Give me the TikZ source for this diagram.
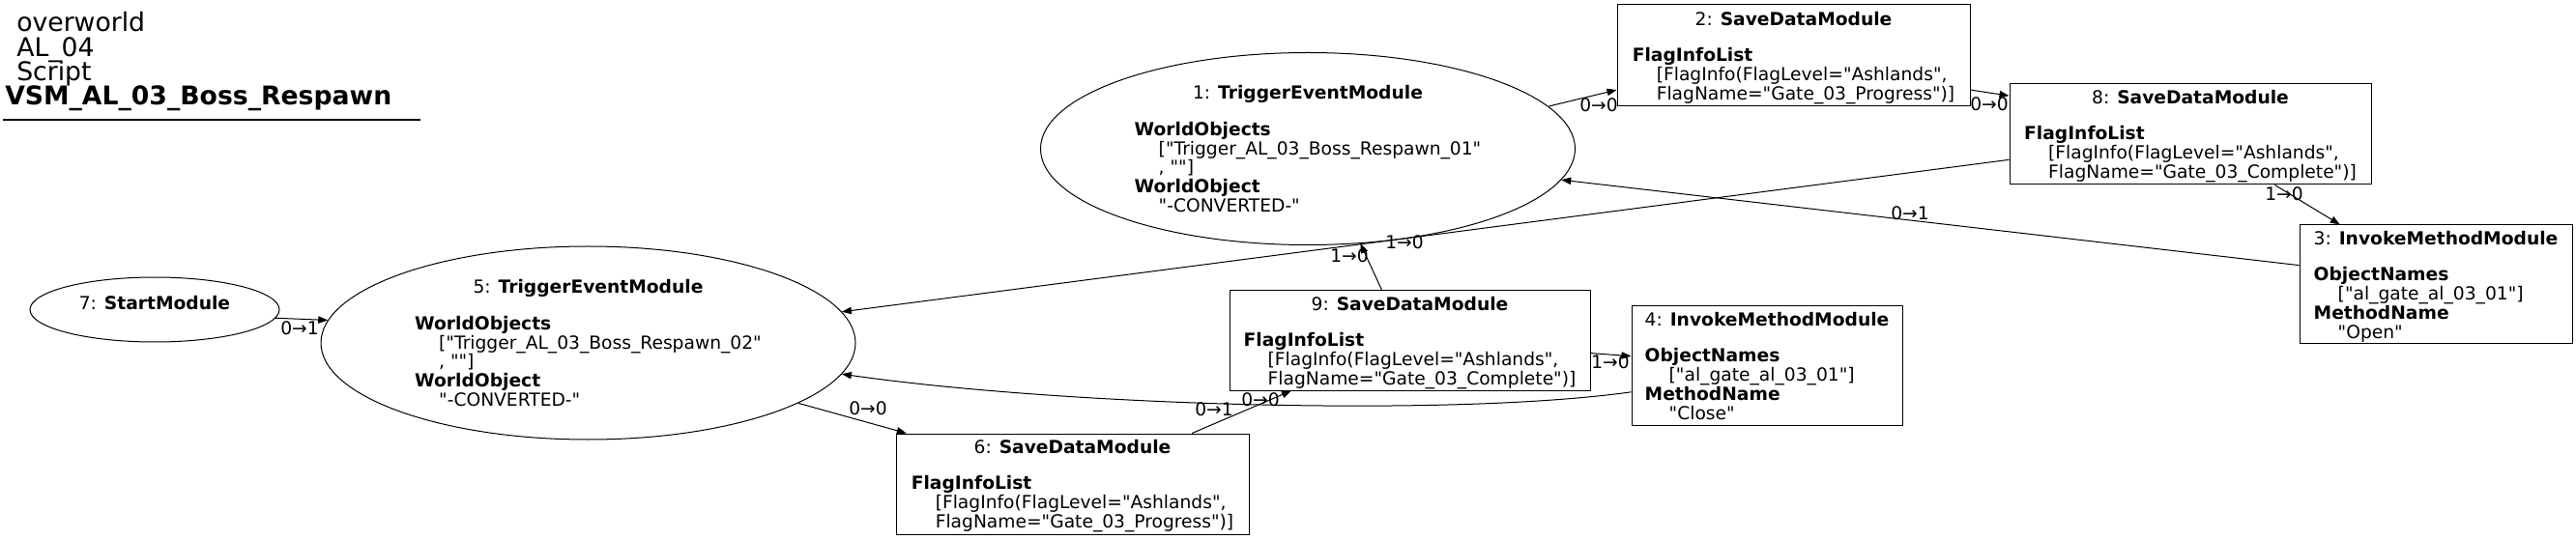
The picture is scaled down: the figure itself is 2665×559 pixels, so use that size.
\documentclass[tikz,border=0pt]{standalone}
\usepackage{fontspec}
\usepackage{array}
\setmainfont{DejaVu Sans}[Ligatures=TeXOff]
\usetikzlibrary{shapes.geometric,arrows.meta}
\newcommand\vin{\hspace*{18.75pt}}
\newcommand\lowr[1]{\raisebox{-2.25pt}[\height][\depth]{#1}}
\begin{document}
\begin{tikzpicture}[x=0.75pt,y=-0.75pt,
  txt/.style={font=\fontsize{14}{14.44}\selectfont},
  ell/.style={draw, ellipse, inner sep=0pt, line width=0.75pt, txt},
  box/.style={draw, rectangle, inner sep=0pt, line width=0.75pt, txt},
  lbl/.style={inner sep=0pt, txt},
  ttl/.style={inner sep=0pt, anchor=base west, font=\fontsize{20}{24}\selectfont},
  conn/.style={draw, line width=0.75pt, -{Triangle[length=7.5pt,width=5.5pt]}}]
\useasboundingbox (0,0) rectangle (2665,559);

% title
\node[ttl] (t1) at (17,33) {overworld};
\node[ttl] (t2) at (17,59) {AL\_04};
\node[ttl] (t3) at (17,84) {Script};
\node[ttl] (t4) at (5,109) {\textbf{VSM\_AL\_03\_Boss\_Respawn}};
\draw[line width=0.9pt] (3,124) -- (435,124);

% nodes
\node[ell, minimum width=414.75pt, minimum height=149.25pt] (n1) at (1353,154)
 {\lowr{\begin{tabular}{@{}l@{}}\multicolumn{1}{@{}c@{}}{1: \textbf{TriggerEventModule}}\\ \\[-1.5pt]
 \textbf{WorldObjects}\\ \vin["Trigger\_AL\_03\_Boss\_Respawn\_01"\\ \vin, ""]\\
 \textbf{WorldObject}\\ \vin"-CONVERTED-"\end{tabular}}};

\node[ell, minimum width=414.75pt, minimum height=150pt] (n5) at (608.5,355)
 {\lowr{\begin{tabular}{@{}l@{}}\multicolumn{1}{@{}c@{}}{5: \textbf{TriggerEventModule}}\\ \\[-1.5pt]
 \textbf{WorldObjects}\\ \vin["Trigger\_AL\_03\_Boss\_Respawn\_02"\\ \vin, ""]\\
 \textbf{WorldObject}\\ \vin"-CONVERTED-"\end{tabular}}};

\node[ell, minimum width=193.5pt, minimum height=50.25pt] (n7) at (160,320.5)
 {\lowr{\begin{tabular}{@{}c@{}}7: \textbf{StartModule}\\ \\[-4pt]\end{tabular}}};

\node[box, minimum width=273.75pt, minimum height=78.75pt] (n2) at (1855.5,57.5)
 {\lowr{\begin{tabular}{@{}l@{}}\multicolumn{1}{@{}c@{}}{2: \textbf{SaveDataModule}}\\ \\[-1.5pt]
 \textbf{FlagInfoList}\\ \vin[FlagInfo(FlagLevel="Ashlands",\\ \vin FlagName="Gate\_03\_Progress")]\end{tabular}}};

\node[box, minimum width=280.5pt, minimum height=78pt] (n8) at (2266,139)
 {\lowr{\begin{tabular}{@{}l@{}}\multicolumn{1}{@{}c@{}}{8: \textbf{SaveDataModule}}\\ \\[-1.5pt]
 \textbf{FlagInfoList}\\ \vin[FlagInfo(FlagLevel="Ashlands",\\ \vin FlagName="Gate\_03\_Complete")]\end{tabular}}};

\node[box, minimum width=211.5pt, minimum height=92.25pt] (n3) at (2520,294.5)
 {\lowr{\begin{tabular}{@{}l@{}}\multicolumn{1}{@{}c@{}}{3: \textbf{InvokeMethodModule}}\\ \\[-1.5pt]
 \textbf{ObjectNames}\\ \vin["al\_gate\_al\_03\_01"]\\ \textbf{MethodName}\\ \vin"Open"\end{tabular}}};

\node[box, minimum width=279.75pt, minimum height=77.25pt] (n9) at (1458.5,352.5)
 {\lowr{\begin{tabular}{@{}l@{}}\multicolumn{1}{@{}c@{}}{9: \textbf{SaveDataModule}}\\ \\[-1.5pt]
 \textbf{FlagInfoList}\\ \vin[FlagInfo(FlagLevel="Ashlands",\\ \vin FlagName="Gate\_03\_Complete")]\end{tabular}}};

\node[box, minimum width=210pt, minimum height=92.25pt] (n4) at (1828,378.5)
 {\lowr{\begin{tabular}{@{}l@{}}\multicolumn{1}{@{}c@{}}{4: \textbf{InvokeMethodModule}}\\ \\[-1.5pt]
 \textbf{ObjectNames}\\ \vin["al\_gate\_al\_03\_01"]\\ \textbf{MethodName}\\ \vin"Close"\end{tabular}}};

\node[box, minimum width=273.75pt, minimum height=78pt] (n6) at (1109.5,501)
 {\lowr{\begin{tabular}{@{}l@{}}\multicolumn{1}{@{}c@{}}{6: \textbf{SaveDataModule}}\\ \\[-1.5pt]
 \textbf{FlagInfoList}\\ \vin[FlagInfo(FlagLevel="Ashlands",\\ \vin FlagName="Gate\_03\_Progress")]\end{tabular}}};

% connectors
\draw[conn] (n7.-4) -- (n5.175.5);
\draw[conn] (n1.10.9) -- (n2.-169);
\draw[conn] (n2.-11.3) -- (n8.168.5);
\draw[conn] (n8.-31.2) -- (n3.148.7);
\draw[conn] (n3.172.9) -- (n1.-7.2);
\draw[conn] (n8.-172.7) -- (n5.7.5);
\draw[conn] (n9.119) -- (n1.-61.4);
\draw[conn] (n5.-16.1) -- (n6.163.8);
\draw[conn] (n6.23) -- (n9.-157.4);
\draw[conn] (n9.-4.1) -- (n4.176.1);
\draw[conn] (n4.-169.3) .. controls (1500,432) and (1100,420) .. (n5.-7.2);

% connector labels
\node[lbl] (l75) at (310,340) {0→1};
\node[lbl] (l12) at (1654,109) {0→0};
\node[lbl] (l28) at (2058,108) {0→0};
\node[lbl] (l83) at (2363,201) {1→0};
\node[lbl] (l31) at (1976,221) {0→1};
\node[lbl] (l85) at (1453,251) {1→0};
\node[lbl] (l91) at (1396,265) {1→0};
\node[lbl] (l56) at (898,423) {0→0};
\node[lbl] (l69) at (1304,414) {0→0};
\node[lbl] (l45) at (1256,424) {0→1};
\node[lbl] (l94) at (1666,375) {1→0};
\end{tikzpicture}
\end{document}
